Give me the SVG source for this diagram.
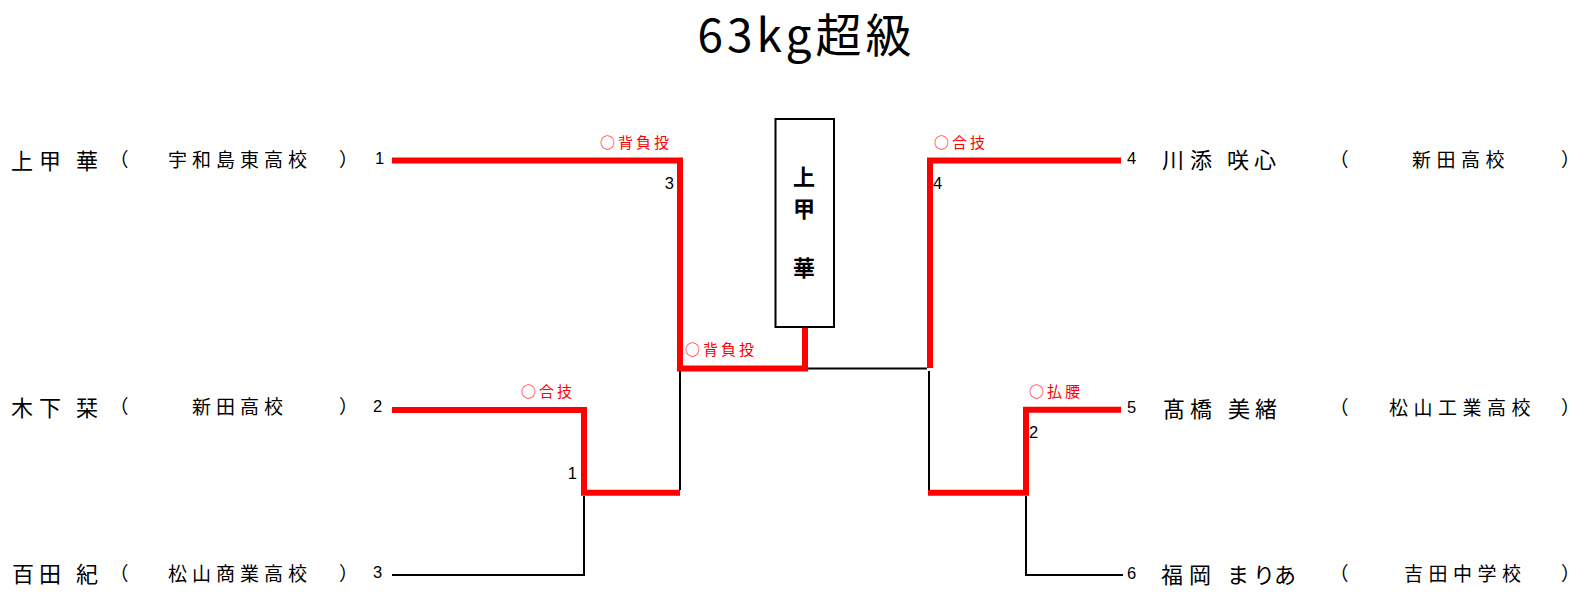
<svg xmlns="http://www.w3.org/2000/svg" width="1585" height="605" viewBox="0 0 1585 605">
<style>
.red{fill:none;stroke:#ff0000;stroke-width:6;stroke-linejoin:miter}
.blk{fill:none;stroke:#000;stroke-width:2}
text{font-family:"Noto Sans CJK JP","Noto Sans",sans-serif;fill:#000;dominant-baseline:central}
.name{font-size:22px}
.sch{font-size:19px;letter-spacing:5px}
.schr{font-size:19px;letter-spacing:5.5px}
.par{font-size:19px}
.num{font-family:"Liberation Sans",sans-serif;font-size:16.5px}
.win{fill:#ff0000;font-size:15px;letter-spacing:3px}
.box{fill:#fff;stroke:#000;stroke-width:2}
.boxt{font-size:22px;font-weight:bold;text-anchor:middle}
</style>
<rect width="1585" height="605" fill="#fff"/>
<text x="806.5" y="32" font-size="46" letter-spacing="4" text-anchor="middle">63kg超級</text>

<g id="connectors">
<path class="red" d="M392 160.5H680V368.5H805V327"/>
<path class="red" d="M392 410H584V492.7H680"/>
<path class="red" d="M1121 160.5H930V368"/>
<path class="red" d="M1121 409.7H1026V492.7H928"/>
<path class="blk" d="M392 575H584V496"/>
<path class="blk" d="M680 371V490"/>
<path class="blk" d="M808 368.5H927"/>
<path class="blk" d="M929 371V490"/>
<path class="blk" d="M1123 575H1026V496"/>
</g>

<g id="winner">
<rect class="box" x="775.5" y="119" width="58.5" height="208"/>
<text class="boxt" x="804" y="175">上</text>
<text class="boxt" x="804" y="207">甲</text>
<text class="boxt" x="804" y="266">華</text>
</g>

<g id="p1">
<text class="name" x="11 39 67 76" y="158.5">上甲 華</text>
<text class="par" x="109.5" y="158.5">（</text>
<text class="sch" x="168" y="158.5">宇和島東高校</text>
<text class="par" x="339" y="158.5">）</text>
<text class="num" x="375" y="158">1</text>
</g>
<g id="p2">
<text class="name" x="11 39 67 76" y="405.5">木下 栞</text>
<text class="par" x="109.5" y="405.5">（</text>
<text class="sch" x="192" y="405.5">新田高校</text>
<text class="par" x="339" y="405.5">）</text>
<text class="num" x="373" y="406">2</text>
</g>
<g id="p3">
<text class="name" x="12 39 67 76" y="572">百田 紀</text>
<text class="par" x="109.5" y="572">（</text>
<text class="sch" x="168" y="572">松山商業高校</text>
<text class="par" x="339" y="572">）</text>
<text class="num" x="373" y="571.5">3</text>
</g>
<g id="p4">
<text class="num" x="1127" y="158">4</text>
<text class="name" x="1162 1190 1218 1227 1254" y="158">川添 咲心</text>
<text class="par" x="1329.5" y="158">（</text>
<text class="schr" x="1412" y="158">新田高校</text>
<text class="par" x="1561" y="158">）</text>
</g>
<g id="p5">
<text class="num" x="1127" y="406.5">5</text>
<text class="name" x="1163 1190 1218 1228 1255" y="406.5">髙橋 美緒</text>
<text class="par" x="1329.5" y="406.5">（</text>
<text class="schr" x="1389" y="406.5">松山工業高校</text>
<text class="par" x="1561" y="406.5">）</text>
</g>
<g id="p6">
<text class="num" x="1127" y="572.5">6</text>
<text class="name" x="1161 1189 1217 1227 1253 1274" y="572.5">福岡 まりあ</text>
<text class="par" x="1329.5" y="572.5">（</text>
<text class="schr" x="1404" y="572.5">吉田中学校</text>
<text class="par" x="1561" y="572.5">）</text>
</g>

<g id="labels">
<text class="win" x="600" y="141.5">○背負投</text>
<text class="win" x="685" y="348">○背負投</text>
<text class="win" x="521" y="390">○合技</text>
<text class="win" x="934" y="141.5">○合技</text>
<text class="win" x="1029" y="390">○払腰</text>
<text class="num" x="674" y="183" text-anchor="end">3</text>
<text class="num" x="577" y="473" text-anchor="end">1</text>
<text class="num" x="933" y="183">4</text>
<text class="num" x="1029" y="431.5">2</text>
</g>
</svg>
